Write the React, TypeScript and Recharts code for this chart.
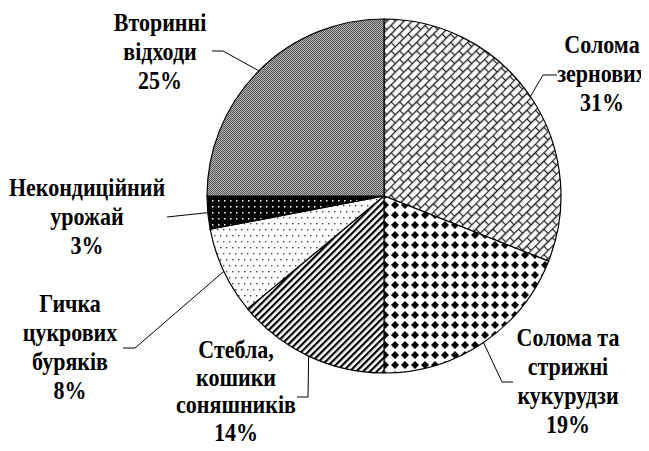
import React from 'react';
import { PieChart, Pie, Cell } from 'recharts';

// shares of agricultural residues, % (clockwise from 12 o'clock)
const categories = [
  'Солома зернових',
  'Солома та стрижні кукурудзи',
  'Стебла, кошики соняшників',
  'Гичка цукрових буряків',
  'Некондиційний урожай',
  'Вторинні відходи',
];
const shares = [31, 19, 14, 8, 3, 25];
const labelRows = [
  ['Солома', 'зернових'],
  ['Солома та', 'стрижні', 'кукурудзи'],
  ['Стебла,', 'кошики', 'соняшників'],
  ['Гичка', 'цукрових', 'буряків'],
  ['Некондиційний', 'урожай'],
  ['Вторинні', 'відходи'],
];
const fills = ['url(#bricks)', 'url(#diamonds)', 'url(#stripes)', 'url(#dots)', 'url(#darkDots)', 'url(#grey)'];

// label text anchor (centre x, first baseline, line step) and leader bend points
const labelLayout = [
  { x: 602, y: 53, step: 29, leader: [[543, 75], [557, 75]] },
  { x: 568, y: 346, step: 29, leader: [[502, 382], [513, 382]] },
  { x: 236, y: 358, step: 27.5, leader: [[308, 397], [297, 397]] },
  { x: 70, y: 312, step: 29, leader: [[135, 348], [123, 348]] },
  { x: 87, y: 196, step: 29, leader: [[167, 217]] },
  { x: 160, y: 31, step: 29, leader: [[223, 51], [212, 51]] },
];

const data = categories.map((name, i) => ({ name, value: shares[i] }));

const RADIAN = Math.PI / 180;
const FONT = '"Liberation Serif", serif';

const renderLabel = (props: any) => {
  const { cx, cy, midAngle, outerRadius, index, value } = props;
  const sx = cx + outerRadius * Math.cos(-midAngle * RADIAN);
  const sy = cy + outerRadius * Math.sin(-midAngle * RADIAN);
  const lay = labelLayout[index];
  const pts = [[sx, sy], ...lay.leader].map((p) => p.join(',')).join(' ');
  const rows = [...labelRows[index], `${value}%`];
  return (
    <g key={`lbl-${index}`}>
      <polyline points={pts} fill="none" stroke="#000" strokeWidth={1} />
      {rows.map((r, j) => (
        <text
          key={j}
          x={0}
          y={0}
          transform={`translate(${lay.x},${lay.y + j * lay.step}) scale(1,1.1)`}
          textAnchor="middle"
          fontFamily={FONT}
          fontWeight="bold"
          fontSize={22}
          fill="#000"
        >
          {r}
        </text>
      ))}
    </g>
  );
};

export default function App() {
  return (
    <div style={{ margin: -8, background: '#fff', width: 649, height: 451 }}>
      <PieChart width={649} height={451} margin={{ top: 0, right: 0, bottom: 0, left: 0 }}>
        <defs>
          <pattern id="bricks" width={12} height={12} patternUnits="userSpaceOnUse" patternTransform="rotate(-45)">
            <rect width={12} height={12} fill="#fff" />
            <path d="M0 0.5H12 M0 6.5H12 M0.5 0.5V6.5 M6.5 6.5V12" stroke="#222" strokeWidth={1.3} fill="none" />
          </pattern>
          <pattern id="diamonds" width={10} height={10} patternUnits="userSpaceOnUse">
            <rect width={10} height={10} fill="#fff" />
            <polygon points="5,1 9,5 5,9 1,5" fill="#000" />
          </pattern>
          <pattern id="stripes" width={4.8} height={4.8} patternUnits="userSpaceOnUse" patternTransform="rotate(45)">
            <rect width={4.8} height={4.8} fill="#fff" />
            <rect width={2.2} height={4.8} fill="#000" />
          </pattern>
          <pattern id="dots" width={6} height={12} patternUnits="userSpaceOnUse">
            <rect width={6} height={12} fill="#fff" />
            <rect x={1} y={1} width={1.4} height={1.4} fill="#444" />
            <rect x={4} y={7} width={1.4} height={1.4} fill="#444" />
          </pattern>
          <pattern id="darkDots" width={6} height={6} patternUnits="userSpaceOnUse">
            <rect width={6} height={6} fill="#000" />
            <rect x={2} y={2} width={1.5} height={1.5} fill="#fff" />
          </pattern>
          <pattern id="grey" width={2} height={2} patternUnits="userSpaceOnUse">
            <rect width={2} height={2} fill="#b5b5b5" />
            <rect width={1} height={1} fill="#555" />
            <rect x={1} y={1} width={1} height={1} fill="#555" />
          </pattern>
        </defs>
        <Pie
          data={data}
          dataKey="value"
          nameKey="name"
          cx={384}
          cy={196}
          outerRadius={177}
          startAngle={90}
          endAngle={-270}
          stroke="#000"
          strokeWidth={1.2}
          label={renderLabel}
          labelLine={false}
          isAnimationActive={false}
        >
          {data.map((entry, index) => (
            <Cell key={`cell-${index}`} fill={fills[index]} />
          ))}
        </Pie>
      </PieChart>
    </div>
  );
}
